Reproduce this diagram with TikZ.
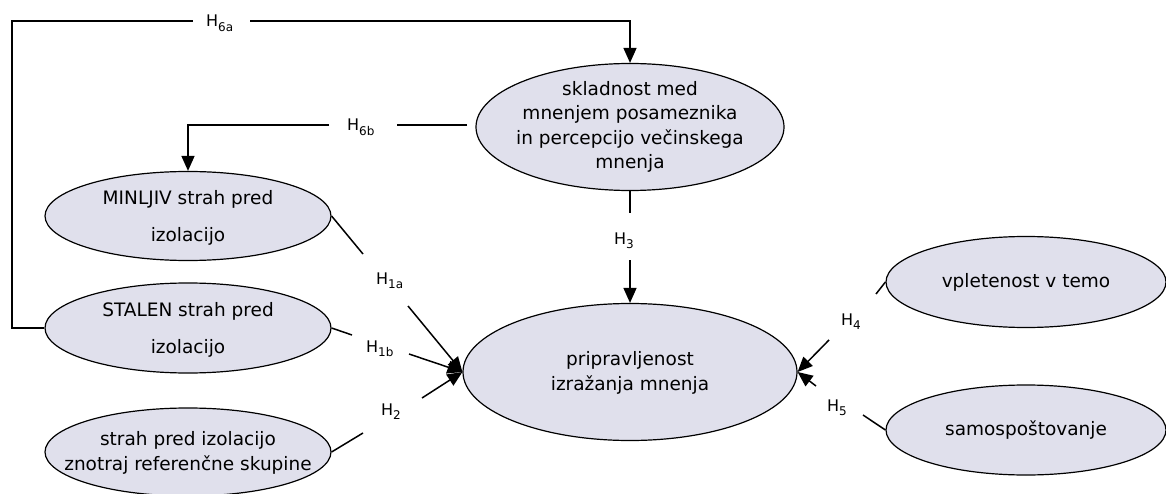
\documentclass[tikz,border=0pt]{standalone}
\usepackage{fontspec}
\setmainfont{DejaVu Sans}
\usetikzlibrary{shapes.geometric,arrows.meta}
\definecolor{efill}{RGB}{224,224,236}
\newcommand\hsub[1]{H\raisebox{-4.5pt}{\fontsize{12}{12}\selectfont #1}}
\begin{document}
\begin{tikzpicture}[x=1pt,y=-1pt,
  ell/.style={ellipse,draw=black,line width=1.2pt,fill=efill,inner sep=0pt},
  etext/.style={align=center,inner sep=0pt,font=\fontsize{18.5}{24.5}\selectfont},
  con/.style={line width=1.5pt},
  arr/.style={con,-{Triangle[length=15pt,width=13pt]}},
  hlab/.style={font=\fontsize{16}{16}\selectfont,inner sep=0pt,anchor=base west}]
\useasboundingbox (0,0) rectangle (1166,494);
% ellipses
\node[ell,minimum width=308pt,minimum height=127pt] (sk) at (630,127) {};
\node[etext] (skt) at (630,127)
  {skladnost med\\mnenjem posameznika\\in percepcijo večinskega\\mnenja};
\node[ell,minimum width=286pt,minimum height=89pt] (min) at (188,216) {};
\node[etext] (mint) at (188,218) {MINLJIV strah pred\\[13pt]izolacijo};
\node[ell,minimum width=286pt,minimum height=90pt] (stl) at (188,328) {};
\node[etext] (stlt) at (188,330) {STALEN strah pred\\[13pt]izolacijo};
\node[ell,minimum width=286pt,minimum height=88pt] (ref) at (188,452) {};
\node[etext] (reft) at (188,453) {strah pred izolacijo\\znotraj referenčne skupine};
\node[ell,minimum width=334pt,minimum height=137pt] (pri) at (630,372) {};
\node[etext] (prit) at (630,373) {pripravljenost\\izražanja mnenja};
\node[ell,minimum width=280pt,minimum height=91pt] (vp) at (1026,282) {};
\node[etext] (vpt) at (1026,282) {vpletenost v temo};
\node[ell,minimum width=280pt,minimum height=90pt] (sam) at (1026,430) {};
\node[etext] (samt) at (1026,430) {samospoštovanje};
% coordinates
\coordinate (a1) at (12,328);
\coordinate (a2) at (12,21);
\coordinate (a3) at (193,21);
\coordinate (a4) at (250,21);
\coordinate (a5) at (630,21);
\coordinate (b1) at (467,125);
\coordinate (b2) at (397,125);
\coordinate (b3) at (329,125);
\coordinate (b4) at (188,125);
\coordinate (c1) at (630,213);
\coordinate (c2) at (630,260);
\coordinate (d1) at (363,254);
\coordinate (d2) at (408,306);
\coordinate (e1) at (352,335);
\coordinate (e2) at (409,354);
\coordinate (f1) at (363,433);
\coordinate (f2) at (422,398);
\coordinate (g1) at (876,294);
\coordinate (g2) at (829,340);
\coordinate (k1) at (863,415);
\coordinate (k2) at (816,386);
% H6a
\draw[con] (stl.west) -- (a1) -- (a2) -- (a3);
\node[hlab] (l6a) at (206,27) {\hsub{6a}};
\draw[arr] (a4) -- (a5) -- (sk.north);
% H6b
\draw[con] (b1) -- (b2);
\node[hlab] (l6b) at (347,131) {\hsub{6b}};
\draw[arr] (b3) -- (b4) -- (min.north);
% H3
\draw[con] (sk.south) -- (c1);
\node[hlab] (l3) at (614,244) {\hsub{3}};
\draw[arr] (c2) -- (pri.north);
% H1a
\draw[con] (min.east) -- (d1);
\node[hlab] (l1a) at (376,284) {\hsub{1a}};
\draw[arr] (d2) -- (pri.west);
% H1b
\draw[con] (stl.east) -- (e1);
\node[hlab] (l1b) at (366,352) {\hsub{1b}};
\draw[arr] (e2) -- (pri.west);
% H2
\draw[con] (ref.east) -- (f1);
\node[hlab] (l2) at (381,415) {\hsub{2}};
\draw[arr] (f2) -- (pri.west);
% H4
\draw[con] (vp.west) -- (g1);
\node[hlab] (l4) at (841,325) {\hsub{4}};
\draw[arr] (g2) -- (pri.east);
% H5
\draw[con] (sam.west) -- (k1);
\node[hlab] (l5) at (827,411) {\hsub{5}};
\draw[arr] (k2) -- (pri.east);
\end{tikzpicture}
\end{document}
